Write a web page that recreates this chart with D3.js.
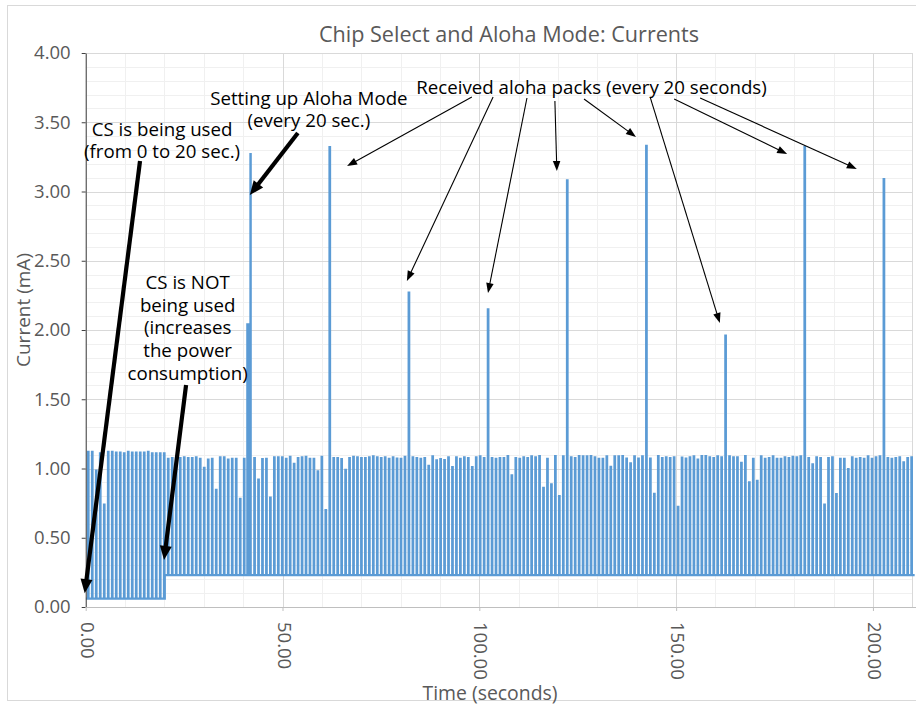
<!DOCTYPE html>
<html><head><meta charset="utf-8">
<script src="https://cdn.jsdelivr.net/npm/d3@7/dist/d3.min.js"></script>
<style>
body{margin:0;background:#fff;}
svg text{font-family:"Open Sans",sans-serif;}
</style></head><body>
<svg id="chart" width="916" height="704"></svg>
<script>
// ---------------- DATA ----------------
const chartTitle = "Chip Select and Aloha Mode: Currents";
const xTitle = "Time (seconds)";
const yTitle = "Current (mA)";

const xTicks = [0, 50, 100, 150, 200];
const xTickLabels = ["0.00", "50.00", "100.00", "150.00", "200.00"];
const yTicks = [0, 0.5, 1, 1.5, 2, 2.5, 3, 3.5, 4];
const yTickLabels = ["0.00", "0.50", "1.00", "1.50", "2.00", "2.50", "3.00", "3.50", "4.00"];

// baseline currents (mA)
const csBaseline = 0.06;     // chip select used (0-20 s)
const idleBaseline = 0.23;   // chip select not used
const csEndTime = 20.1;

// segment A: pulses before the Aloha set-up (sample times start + k*period)
const segAStart = 0.58, segAPeriod = 1.016;
const pulsesA = [1.12, 1.12, 0.985, 1.11, 0.74, 1.12, 1.12, 1.115, 1.115, 1.11,
                 1.12, 1.115, 1.115, 1.115, 1.115, 1.12, 1.11, 1.11, 1.11, 1.11,
                 1.07, 1.075, 1.075, 1.075, 1.08, 1.075, 1.075, 1.08, 1.07, 1.005,
                 1.065, 1.07, 0.845, 1.08, 1.08, 1.065, 1.07, 1.07, 0.78, 1.07];

// Aloha set-up event [time, mA]
const setupEvent = [[41.06, 0.23], [41.06, 2.04], [41.6, 2.04], [41.6, 0.23],
                    [41.85, 0.23], [41.85, 3.27], [41.92, 3.27], [41.92, 0.23]];

// segment B: pulses after the set-up (includes received aloha packs every 20th)
const segBStart = 42.83, segBPeriod = 1.0056;
const pulsesB = [1.075, 0.92, 1.067, 1.07, 0.79, 1.08, 1.08, 1.08, 1.07, 1.085,
                 1.034, 1.075, 1.08, 1.085, 1.07, 1.07, 0.98, 1.085, 0.70, 3.32,
                 1.075, 1.075, 1.067, 0.99, 1.075, 1.085, 1.08, 1.075, 1.075, 1.08,
                 1.087, 1.08, 1.075, 1.08, 1.07, 1.08, 1.072, 1.07, 1.085, 2.27,
                 1.08, 1.075, 1.07, 1.075, 1.02, 1.087, 1.058, 1.067, 1.06, 1.08,
                 1.01, 1.08, 1.07, 1.08, 1.075, 1.01, 1.08, 1.087, 1.075, 2.15,
                 1.075, 1.07, 1.075, 1.075, 1.09, 0.95, 1.075, 1.07, 1.08, 1.075,
                 1.087, 1.08, 1.09, 0.86, 1.07, 0.885, 1.09, 0.80, 1.087, 3.08,
                 1.08, 1.075, 1.09, 1.087, 1.087, 1.09, 1.08, 1.07, 1.07, 1.087,
                 1.012, 1.087, 1.087, 1.09, 1.072, 1.038, 1.087, 1.072, 1.087, 3.33,
                 1.072, 0.817, 1.09, 1.075, 1.08, 1.075, 1.08, 0.723, 1.078, 1.072,
                 1.08, 1.087, 1.065, 1.09, 1.09, 1.08, 1.075, 1.087, 1.08, 1.96,
                 1.087, 1.08, 1.08, 1.04, 1.09, 0.90, 1.07, 0.91, 1.087, 1.07,
                 1.075, 1.087, 1.07, 1.07, 1.08, 1.075, 1.085, 1.08, 1.087, 3.32,
                 1.075, 1.03, 1.08, 1.075, 0.74, 1.075, 1.08, 0.815, 1.07, 1.07,
                 0.995, 1.08, 1.07, 1.075, 1.07, 1.087, 1.07, 1.08, 1.087, 3.09,
                 1.075, 1.07, 1.075, 1.08, 1.045, 1.075, 1.08];
const endTime = 210.6;

// annotations (positions in data units: seconds, mA)
const noteLines = [
  ["CS is being used", "(from 0 to 20 sec.)"],
  ["Setting up Aloha Mode", "(every 20 sec.)"],
  ["CS is NOT", "being used", "(increases", "the power", "consumption)"],
  ["Received aloha packs (every 20 seconds)"]
];
const noteX = [19.4, 56.7, 25.9, 128.5];
const noteY = [3.458, 3.682, 2.349, 3.758];
// thick arrows [t0, v0, t1, v1]
const thickArrows = [[13.8, 3.22, -0.25, 0.10], [53.9, 3.422, 41.7, 2.975], [25.5, 1.603, 19.9, 0.34]];
// thin arrows
const thinArrows = [[98.1, 3.682, 66.4, 3.184], [103.5, 3.682, 81.6, 2.354], [112.1, 3.675, 102.2, 2.267],
                    [119.2, 3.653, 119.7, 3.148], [126.6, 3.668, 139.8, 3.394], [143.4, 3.682, 161.1, 2.051],
                    [149.5, 3.668, 178.2, 3.271], [156.1, 3.675, 195.9, 3.162]];

// ---------------- LAYOUT ----------------
const svg = d3.select("#chart");
const L = 85.7, R = 912.3, T = 53, B = 607;
const x = d3.scaleLinear().domain([0, 210]).range([L, R]);
const y = d3.scaleLinear().domain([0, 4]).range([B, T]);
const pulseW = 0.14;

// chart border
svg.append("rect").attr("x", 7.5).attr("y", 5.5).attr("width", 940).attr("height", 695)
  .attr("fill", "#fff").attr("stroke", "#d9d9d9").attr("stroke-width", 1);

// gridlines
const g = svg.append("g");
d3.range(0, 4.0001, 0.1).forEach(v => {
  const major = Math.abs(v * 2 - Math.round(v * 2)) < 1e-6;
  if (major) return;
  g.append("line").attr("x1", L).attr("x2", R).attr("y1", Math.round(y(v)) + 0.5).attr("y2", Math.round(y(v)) + 0.5)
    .attr("stroke", "#f0f0f0");
});
d3.range(0, 211, 10).forEach(t => {
  if (t % 50 === 0) return;
  g.append("line").attr("y1", T).attr("y2", B).attr("x1", Math.round(x(t)) + 0.5).attr("x2", Math.round(x(t)) + 0.5)
    .attr("stroke", "#f0f0f0");
});
yTicks.forEach(v => {
  g.append("line").attr("x1", L).attr("x2", R).attr("y1", Math.round(y(v)) + 0.5).attr("y2", Math.round(y(v)) + 0.5)
    .attr("stroke", "#d9d9d9");
});
xTicks.concat([210]).forEach(t => {
  g.append("line").attr("y1", T).attr("y2", B).attr("x1", Math.round(x(t)) + 0.5).attr("x2", Math.round(x(t)) + 0.5)
    .attr("stroke", "#d9d9d9");
});

// data path
const pts = [[0, csBaseline]];
let stepped = false;
pulsesA.forEach((h, k) => {
  const t = segAStart + k * segAPeriod;
  if (!stepped && t > csEndTime) {
    pts.push([csEndTime, csBaseline], [csEndTime, idleBaseline]);
    stepped = true;
  }
  const b = t < csEndTime ? csBaseline : idleBaseline;
  pts.push([t, b], [t, h], [t + pulseW, h], [t + pulseW, b]);
});
setupEvent.forEach(p => pts.push(p));
pulsesB.forEach((h, i) => {
  const t = segBStart + i * segBPeriod;
  pts.push([t, idleBaseline], [t, h], [t + pulseW, h], [t + pulseW, idleBaseline]);
});
pts.push([endTime, idleBaseline]);

svg.append("clipPath").attr("id", "clip").append("rect")
  .attr("x", L).attr("y", 0).attr("width", 916 - L).attr("height", B);
const line = d3.line().x(d => x(d[0])).y(d => y(d[1]));
svg.append("path").datum(pts).attr("clip-path", "url(#clip)")
  .attr("d", line).attr("fill", "none").attr("stroke", "#5b9bd5")
  .attr("stroke-width", 2.2).attr("stroke-linejoin", "miter");

// axes
const yAxis = svg.append("g").attr("transform", `translate(${L},0)`)
  .call(d3.axisLeft(y).tickValues(yTicks).tickFormat((d, i) => yTickLabels[i]).tickSize(4).tickPadding(11).tickSizeOuter(0));
yAxis.select(".domain").attr("stroke", "#404040");
yAxis.selectAll(".tick line").attr("stroke", "#404040");
yAxis.selectAll("text").attr("fill", "#595959").style("font-size", "18.5px").style("font-family", "'Open Sans',sans-serif");

const xAxis = svg.append("g").attr("transform", `translate(0,${B})`)
  .call(d3.axisBottom(x).tickValues(xTicks).tickFormat((d, i) => xTickLabels[i]).tickSize(4).tickSizeOuter(0));
xAxis.select(".domain").attr("stroke", "#bfbfbf").attr("d", `M${L},0.5H916`);
xAxis.selectAll(".tick line").attr("stroke", "#bfbfbf");
xAxis.selectAll("text").attr("fill", "#595959").style("font-size", "18.5px").style("font-family", "'Open Sans',sans-serif")
  .attr("y", null).attr("dy", null).attr("x", null)
  .attr("text-anchor", "start").attr("dominant-baseline", "central")
  .attr("transform", "translate(2,15) rotate(90)");

// titles
svg.append("text").attr("x", 509).attr("y", 33).attr("text-anchor", "middle").attr("dominant-baseline", "central")
  .attr("fill", "#595959").style("font-size", "21.6px").text(chartTitle);
svg.append("text").attr("x", 490).attr("y", 692).attr("text-anchor", "middle").attr("dominant-baseline", "central")
  .attr("fill", "#595959").style("font-size", "19.4px").text(xTitle);
svg.append("text").attr("transform", "translate(23,310) rotate(-90)").attr("text-anchor", "middle")
  .attr("dominant-baseline", "central").attr("fill", "#595959").style("font-size", "19px").text(yTitle);

// annotations
noteLines.forEach((lines, i) => {
  const tx = svg.append("text").attr("text-anchor", "middle").attr("fill", "#000").style("font-size", "18.7px");
  lines.forEach((s, j) => {
    tx.append("tspan").attr("x", x(noteX[i])).attr("y", y(noteY[i]) + j * 22.6)
      .attr("dominant-baseline", "central").text(s);
  });
});

function arrow(a, width, headL, headW) {
  const x0 = x(a[0]), y0 = y(a[1]), x1 = x(a[2]), y1 = y(a[3]);
  const dx = x1 - x0, dy = y1 - y0, len = Math.hypot(dx, dy);
  const ux = dx / len, uy = dy / len, nx = -uy, ny = ux;
  const bx = x1 - ux * headL, by = y1 - uy * headL;
  svg.append("line").attr("x1", x0).attr("y1", y0).attr("x2", bx + ux * 1).attr("y2", by + uy * 1)
    .attr("stroke", "#000").attr("stroke-width", width);
  svg.append("polygon").attr("points",
    [[x1, y1], [bx + nx * headW / 2, by + ny * headW / 2], [bx - nx * headW / 2, by - ny * headW / 2]].map(p => p.join(",")).join(" "))
    .attr("fill", "#000");
}
thickArrows.forEach(a => arrow(a, 4.2, 14, 12));
thinArrows.forEach(a => arrow(a, 1.1, 10, 7.5));
</script>
</body></html>
